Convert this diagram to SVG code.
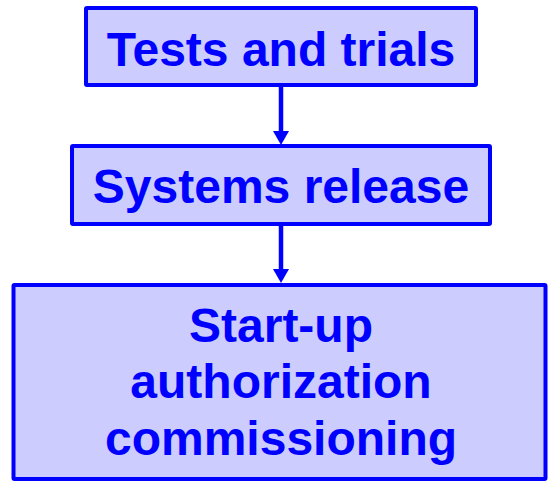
<svg xmlns="http://www.w3.org/2000/svg" width="549" height="483" viewBox="0 0 549 483">
<style>
.box{fill:#CCCCFF;stroke:#0000FF;stroke-width:4;stroke-linejoin:round}
.lbl{font-family:"Liberation Sans",Arial,sans-serif;font-weight:bold;font-size:48px;fill:#0000FF;text-anchor:middle}
.conn{stroke:#0000FF;stroke-width:4.5;fill:none}
.head{fill:#0000FF}
</style>
<rect width="549" height="483" fill="#FFFFFF"/>
<g id="connectors">
<line class="conn" x1="281" y1="87" x2="281" y2="134"/>
<polygon class="head" points="273,131 289,131 281,145"/>
<line class="conn" x1="281" y1="226" x2="281" y2="272"/>
<polygon class="head" points="273,269 289,269 281,283"/>
</g>
<g id="node-tests">
<rect class="box" x="86" y="8" width="390" height="77" rx="1"/>
<text class="lbl" x="281" y="66">Tests and trials</text>
</g>
<g id="node-release">
<rect class="box" x="72" y="146" width="418" height="78" rx="1"/>
<text class="lbl" x="281" y="203">Systems release</text>
</g>
<g id="node-startup">
<rect class="box" x="13.5" y="285" width="532" height="194" rx="1"/>
<text class="lbl" x="281" y="342">Start-up</text>
<text class="lbl" x="281" y="398">authorization</text>
<text class="lbl" x="281" y="455">commissioning</text>
</g>
</svg>
